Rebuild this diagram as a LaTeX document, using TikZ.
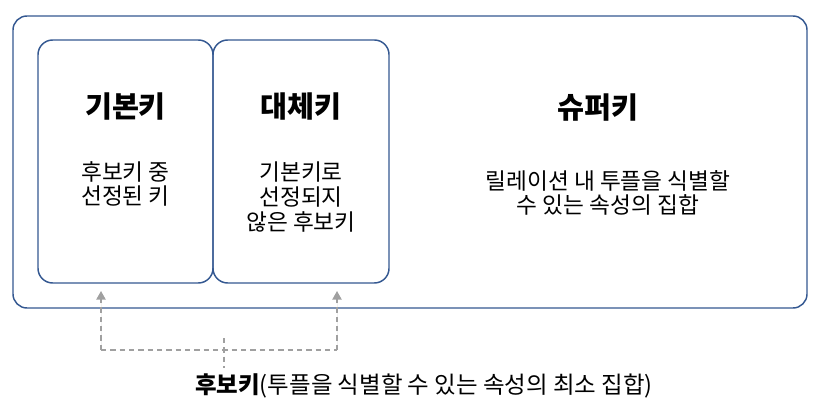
\documentclass[tikz,border=0pt]{standalone}
\usepackage{fontspec}
\setmainfont{Noto Sans CJK KR}
\usetikzlibrary{arrows.meta}
\definecolor{boxblue}{RGB}{52,88,145}
\definecolor{dashgrey}{RGB}{160,160,160}
\begin{document}
\begin{tikzpicture}[x=0.75pt,y=-0.75pt,
  outerbox/.style={draw=boxblue,line width=1.1pt,rounded corners=10.5pt},
  keybox/.style={draw=boxblue,line width=1.1pt,rounded corners=11pt},
  title/.style={font=\fontsize{22pt}{26pt}\selectfont\bfseries,inner sep=0pt},
  desc/.style={font=\fontsize{17pt}{18.5pt}\selectfont,align=center,inner sep=0pt},
  conn/.style={draw=dashgrey,line width=1.1pt,dash pattern=on 4pt off 3pt},
  tip/.style={-{Triangle[width=7pt,length=6.5pt]},fill=dashgrey}]
\useasboundingbox (0,0) rectangle (820,413);
\path[outerbox] (13,16) rectangle (807,308);
\path[keybox] (38,40) rectangle (213,283);
\path[keybox] (213,40) rectangle (389,283);
\node[title] (t1) at (125.5,107) {기본키};
\node[desc] (d1) at (125.5,184) {후보키 중\\선정된 키};
\node[title] (t2) at (301,107) {대체키};
\node[desc] (d2) at (301,197) {기본키로\\선정되지\\않은 후보키};
\node[title] (t3) at (598,108) {슈퍼키};
\node[desc] (d3) at (608,193) {릴레이션 내 투플을 식별할\\수 있는 속성의 집합};
\node[font=\fontsize{17.6pt}{20pt}\selectfont,inner sep=0pt] (cand) at (424,386) {\textbf{후보키}(투플을 식별할 수 있는 속성의 최소 집합)};
\coordinate (a1) at (101,291);
\coordinate (a2) at (337,291);
\coordinate (b1) at (101,350);
\coordinate (b2) at (337,350);
\coordinate (m1) at (224,338);
\coordinate (m2) at (224,368);
\draw[conn] (b1) -- (b2);
\draw[conn] (m1) -- (m2);
\draw[conn,tip] (b1) -- (a1);
\draw[conn,tip] (b2) -- (a2);
\end{tikzpicture}
\end{document}
